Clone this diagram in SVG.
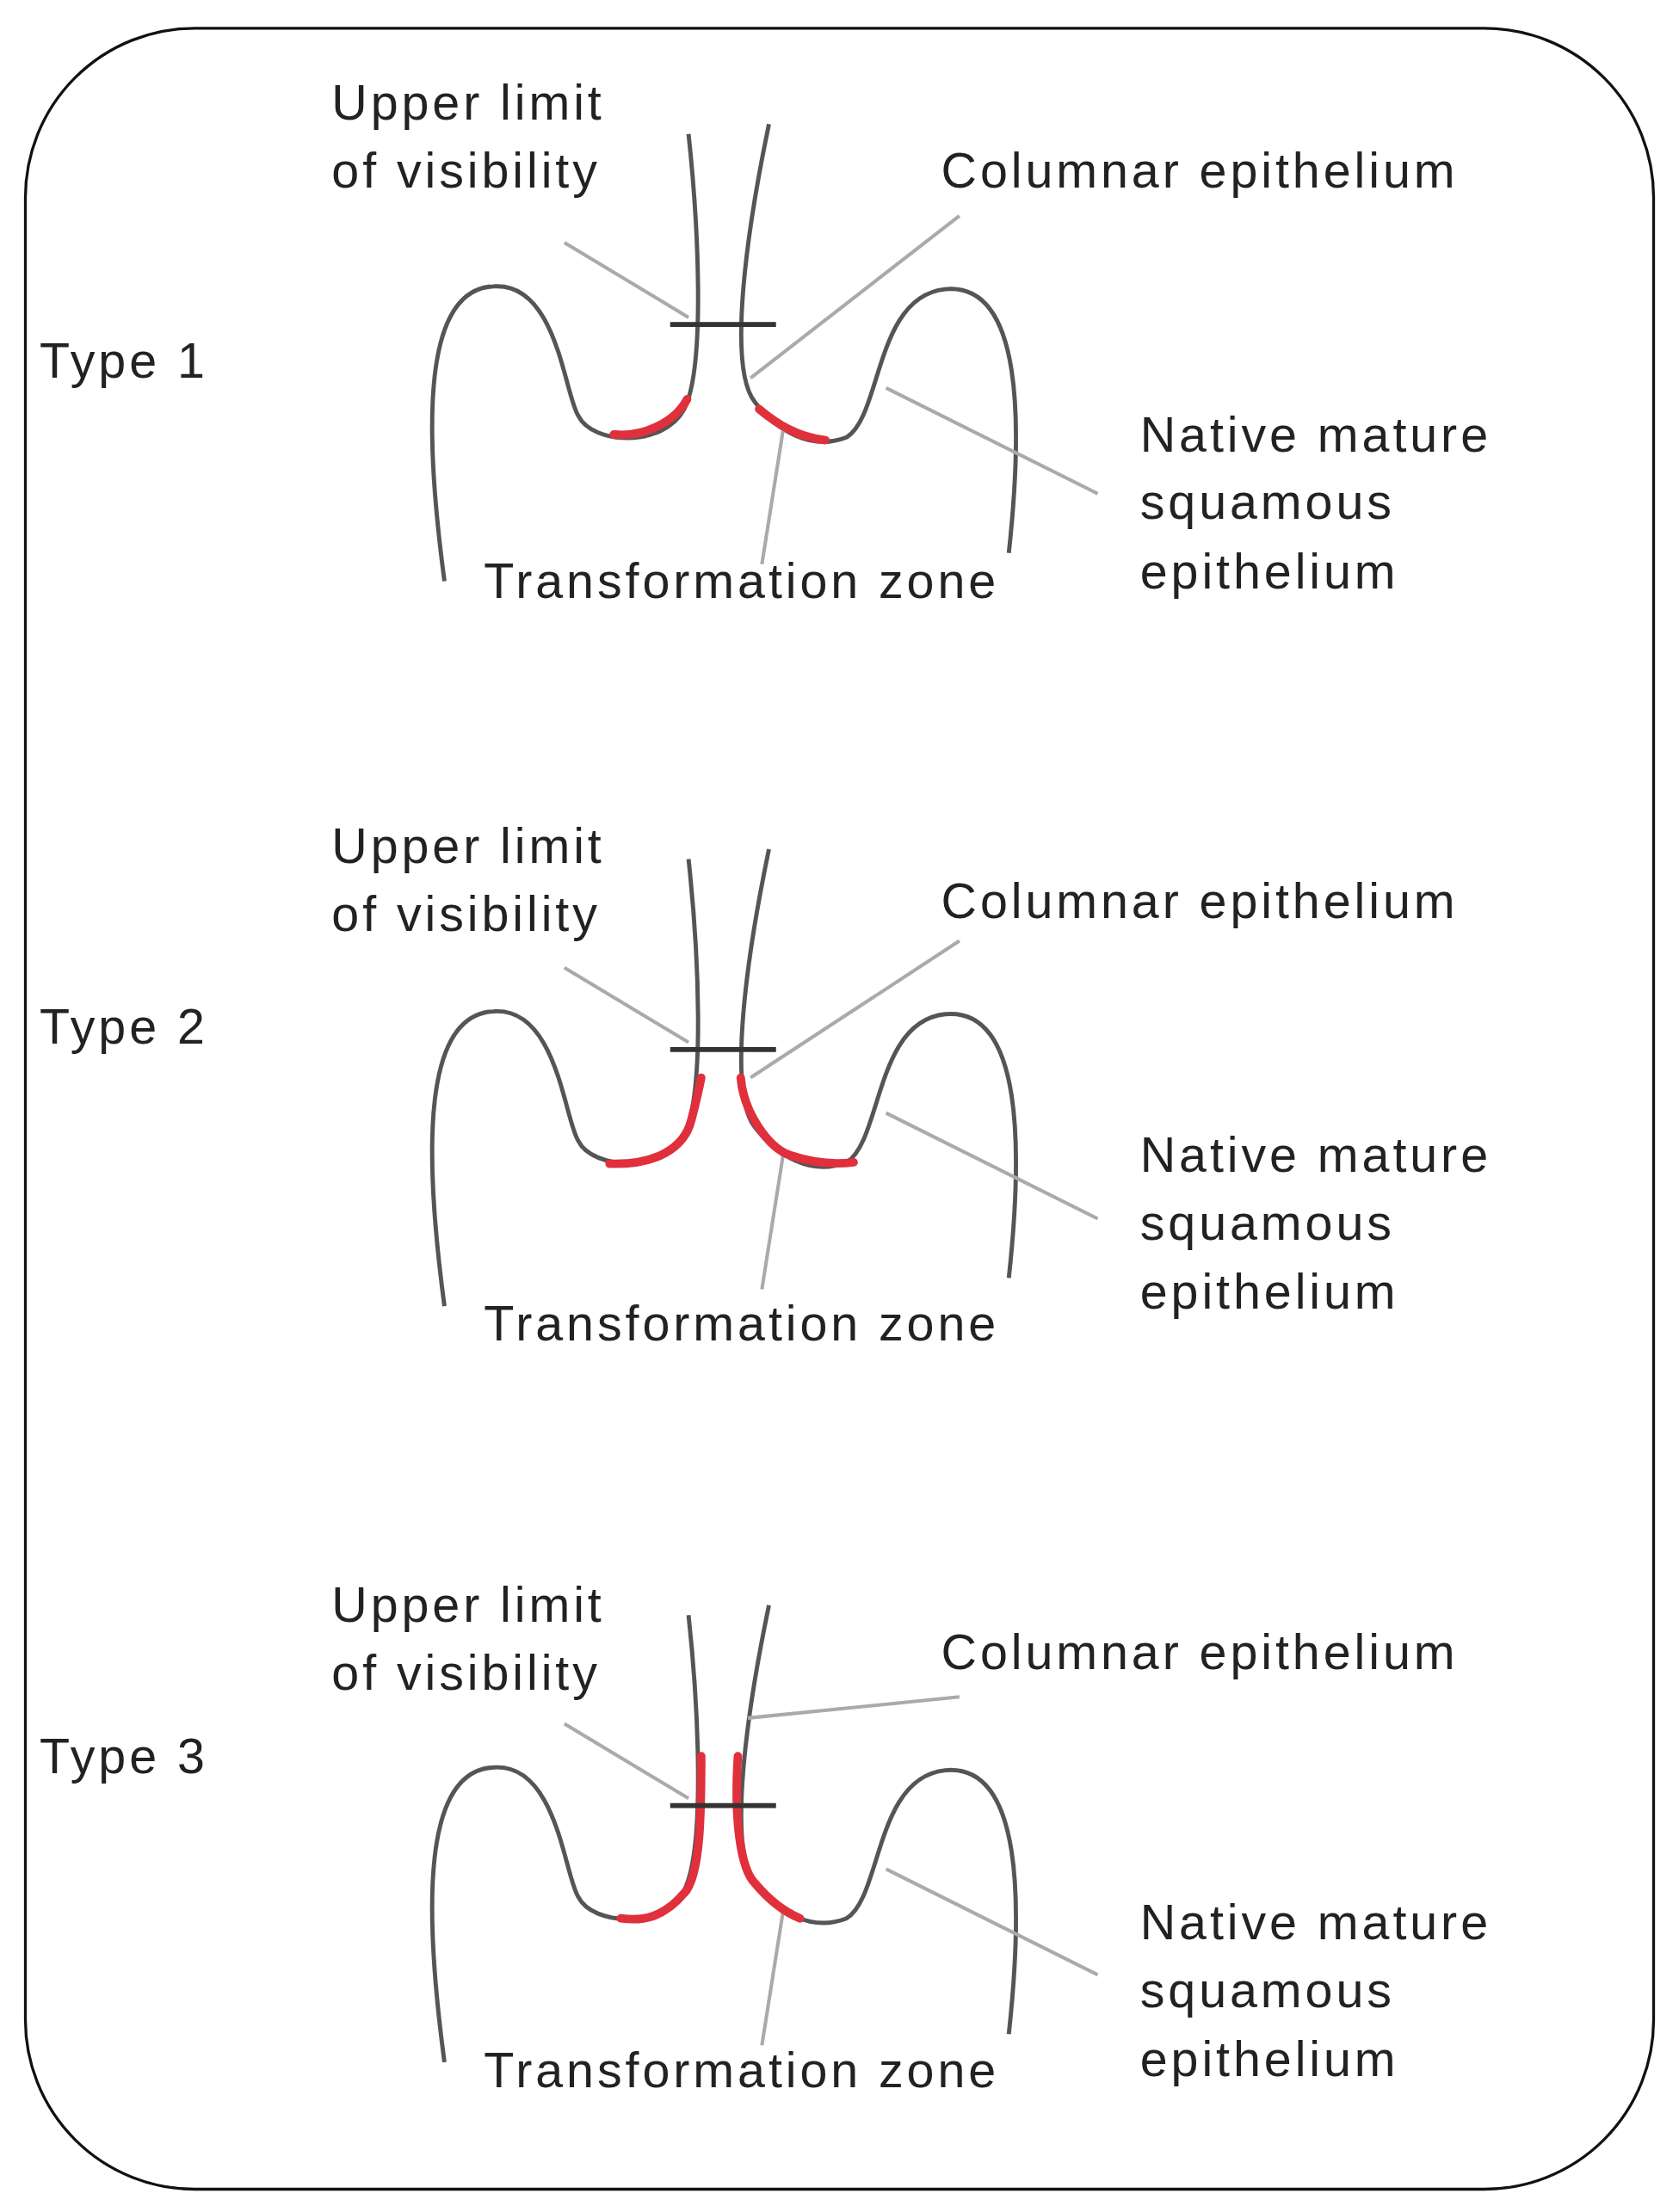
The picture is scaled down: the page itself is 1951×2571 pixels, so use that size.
<svg xmlns="http://www.w3.org/2000/svg" width="1951" height="2571" viewBox="0 0 1951 2571">
<style>
.s{fill:none;stroke:#555;stroke-width:3}
.b{fill:none;stroke:#333;stroke-width:3.5}
.l{fill:none;stroke:#aaa;stroke-width:2.5}
.r{fill:none;stroke:#e0303c;stroke-width:6;stroke-linecap:round}
text{font-family:"Liberation Sans",Arial,sans-serif;font-size:35px;letter-spacing:2.4px;fill:#222}
</style>
<defs>
<g id="base">
<path class="s" d="M315,412 C300,300 300,205 350,203 C395,200 400,280 410,295 C420,315 470,318 485,290 C500,260 495,160 488,95"/>
<path class="s" d="M545,88 C530,160 515,260 535,285 C550,305 575,320 600,310 C625,295 620,210 670,205 C725,200 725,300 715,392"/>
<line class="l" x1="400" y1="172" x2="488" y2="225"/>
<line class="l" x1="778" y1="350" x2="628" y2="275"/>
<line class="l" x1="555" y1="305" x2="540" y2="400"/>
</g>
</defs>
<g transform="scale(1.6395)">
<rect x="18" y="20" width="1154" height="1532" rx="120" fill="none" stroke="#111" stroke-width="2"/>
<g id="type1">
<use href="#base"/>
<path class="r" d="M435,308 C455,310 478,300 487,283"/>
<path class="r" d="M538,290 C550,300 565,310 585,312"/>
<line class="l" x1="680" y1="153" x2="532" y2="268"/>
<line class="b" x1="475" y1="230" x2="550" y2="230"/>
<text x="28" y="268">Type 1</text>
<text x="235" y="85">Upper limit</text><text x="235" y="133">of visibility</text>
<text x="667" y="133">Columnar epithelium</text>
<text x="808" y="320">Native mature</text><text x="808" y="368">squamous</text><text x="808" y="417">epithelium</text>
<text x="343" y="424">Transformation zone</text>
</g>
<g id="type2" transform="translate(0,514)">
<use href="#base"/>
<path class="r" d="M432,311 C465,312 485,300 490,280 C494,265 496,255 497,250"/>
<path class="r" d="M525,250 C527,275 545,300 560,305 C575,310 590,312 605,310"/>
<line class="l" x1="680" y1="153" x2="532" y2="250"/>
<line class="b" x1="475" y1="230" x2="550" y2="230"/>
<text x="28" y="226">Type 2</text>
<text x="235" y="98">Upper limit</text><text x="235" y="146">of visibility</text>
<text x="667" y="137">Columnar epithelium</text>
<text x="808" y="317">Native mature</text><text x="808" y="365">squamous</text><text x="808" y="414">epithelium</text>
<text x="343" y="436">Transformation zone</text>
</g>
<g id="type3" transform="translate(0,1050)">
<use href="#base"/>
<path class="r" d="M497,195 C497,230 497,280 485,292 C470,310 455,312 440,310"/>
<path class="r" d="M523,195 C520,240 525,275 535,285 C545,297 555,305 567,310"/>
<line class="l" x1="680" y1="153" x2="530" y2="168"/>
<line class="b" x1="475" y1="230" x2="550" y2="230"/>
<text x="28" y="207">Type 3</text>
<text x="235" y="100">Upper limit</text><text x="235" y="148">of visibility</text>
<text x="667" y="133">Columnar epithelium</text>
<text x="808" y="325">Native mature</text><text x="808" y="373">squamous</text><text x="808" y="422">epithelium</text>
<text x="343" y="430">Transformation zone</text>
</g>
</g>
</svg>
